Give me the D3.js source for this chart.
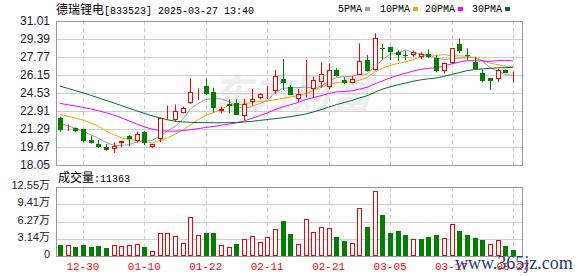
<!DOCTYPE html>
<html lang="zh">
<head>
<meta charset="utf-8">
<title>德瑞锂电 K线</title>
<script src="https://cdn.jsdelivr.net/npm/d3@7/dist/d3.min.js"></script>
<style>
  body { margin: 0; background: #fff; }
  svg { display: block; }
</style>
</head>
<body>
<div id="chart"></div>
<script type="text/javascript">
var dates = ["12-25","12-26","12-27","12-30","12-31","01-02","01-03","01-06","01-07","01-08",
             "01-09","01-10","01-13","01-14","01-15","01-16","01-17","01-20","01-21","01-22",
             "01-23","01-24","01-27","02-05","02-06","02-07","02-10","02-11","02-12","02-13",
             "02-14","02-17","02-18","02-19","02-20","02-21","02-24","02-25","02-26","02-27",
             "02-28","03-03","03-04","03-05","03-06","03-07","03-10","03-11","03-12","03-13",
             "03-14","03-17","03-18","03-19","03-20","03-21","03-24","03-25","03-26","03-27"];

var opens  = [22.31,21.25,21.35,21.29,20.30,19.94,19.70,19.46,20.03,20.63,
              20.24,21.02,19.64,20.36,22.45,22.10,22.76,23.60,24.62,25.16,
              24.65,22.88,23.51,23.60,22.49,23.70,24.05,24.68,24.74,25.79,
              25.10,24.02,24.92,24.86,25.55,25.10,26.60,25.70,25.46,26.15,
              27.50,26.60,28.55,28.64,28.19,27.98,27.92,27.74,28.01,27.65,
              26.54,27.20,28.94,27.95,27.29,26.36,25.85,25.82,26.60,26.35];
var highs  = [22.40,21.71,21.43,21.29,20.69,20.30,19.94,20.09,20.20,20.75,
              21.07,21.10,19.95,22.25,23.39,23.50,23.30,25.85,24.95,25.82,
              25.00,23.30,23.96,23.99,24.00,24.89,24.50,25.16,26.60,27.59,
              25.25,24.89,27.50,26.00,27.29,27.20,26.75,25.94,26.06,29.00,
              27.95,29.90,28.94,28.70,28.40,28.34,28.34,28.19,28.46,27.92,
              27.26,28.55,29.45,28.55,27.80,26.66,25.85,26.72,26.65,26.45];
var lows   = [21.05,21.11,21.00,20.09,19.98,19.58,19.34,19.13,19.64,19.70,
              20.09,19.85,19.60,20.10,22.13,21.95,22.70,23.54,23.90,24.35,
              22.76,22.70,22.70,22.55,22.10,23.39,23.95,23.99,24.44,24.80,
              24.35,23.75,24.14,24.20,25.00,24.86,26.00,25.34,25.40,26.15,
              26.45,26.54,27.56,27.50,27.44,27.50,27.80,27.59,27.68,26.39,
              26.30,27.14,28.10,27.50,26.60,25.49,24.80,25.52,26.30,25.46];
var closes = [21.20,21.30,21.11,20.24,20.00,19.67,19.43,19.76,20.18,20.36,
              20.81,20.00,19.91,22.25,22.52,22.91,23.15,24.62,24.70,24.41,
              23.15,23.12,23.36,22.55,23.54,24.00,24.44,24.73,26.06,25.46,
              24.35,24.44,24.97,25.67,26.24,26.60,26.09,25.40,25.76,27.38,
              26.54,29.45,28.50,28.25,27.95,27.92,28.19,28.01,27.74,26.54,
              27.20,28.55,28.31,27.90,26.69,25.64,25.64,26.60,26.36,26.37];

var ma5  = [21.80,21.60,21.35,21.10,20.77,20.46,20.09,19.82,19.81,19.88,
            20.11,20.22,20.25,20.67,21.10,21.52,22.15,23.09,23.58,23.96,
            24.01,24.00,23.75,23.32,23.14,23.31,23.58,23.85,24.55,24.94,
            25.01,25.01,25.06,24.98,25.13,25.58,25.91,26.00,26.02,26.25,
            26.23,26.91,27.53,28.02,28.14,28.41,28.16,28.06,27.96,27.68,
            27.54,27.61,27.67,27.70,27.73,27.42,26.84,26.49,26.19,26.12];
var ma10 = [22.61,22.45,22.28,22.10,21.85,21.55,21.12,20.78,20.52,20.33,
            20.29,20.16,20.04,20.24,20.49,20.81,21.19,21.67,22.12,22.53,
            22.76,23.07,23.42,23.45,23.55,23.66,23.79,23.80,23.94,24.04,
            24.16,24.29,24.45,24.77,25.04,25.30,25.46,25.53,25.50,25.69,
            25.91,26.41,26.76,27.02,27.19,27.32,27.53,27.80,27.99,27.91,
            27.98,27.89,27.87,27.83,27.71,27.48,27.22,27.08,26.94,26.93];
var ma20 = [23.60,23.48,23.36,23.24,23.10,22.94,22.75,22.55,22.30,22.02,
            21.75,21.48,21.28,21.15,21.10,21.10,21.14,21.22,21.32,21.43,
            21.52,21.62,21.73,21.84,22.02,22.24,22.49,22.74,23.03,23.28,
            23.46,23.68,23.94,24.11,24.29,24.48,24.63,24.66,24.72,24.87,
            25.04,25.35,25.61,25.89,26.11,26.31,26.50,26.66,26.75,26.80,
            26.94,27.15,27.31,27.43,27.45,27.40,27.38,27.44,27.47,27.42];
var ma30 = [25.16,24.95,24.75,24.55,24.33,24.10,23.87,23.64,23.40,23.16,
            22.93,22.70,22.48,22.30,22.12,22.00,21.93,21.89,21.87,21.86,
            21.85,21.85,21.86,21.88,21.92,21.98,22.06,22.14,22.22,22.30,
            22.40,22.51,22.64,22.82,23.03,23.26,23.48,23.67,23.85,24.09,
            24.28,24.59,24.88,25.08,25.26,25.43,25.59,25.71,25.81,25.88,
            26.02,26.20,26.36,26.54,26.64,26.70,26.74,26.80,26.81,26.84];

// volume in 万 shares, and bar colour (1 = red, 0 = green) as seen on the chart
var volumes = [2.05,2.00,1.70,2.05,1.70,1.88,1.50,2.00,1.88,2.00,
               2.18,1.70,0.85,4.12,4.12,3.64,2.30,7.03,3.76,4.18,
               4.18,2.00,1.64,2.18,3.09,3.64,2.48,3.45,4.90,6.36,
               4.00,2.18,6.73,4.36,5.27,5.09,3.52,2.73,2.36,8.73,
               5.33,11.82,7.45,4.18,4.55,3.82,3.09,3.09,3.45,3.82,
               3.27,5.76,4.55,3.82,3.27,2.91,2.18,2.85,1.82,1.14];
var volUp = [0,1,0,0,0,0,0,1,1,1,
             1,0,1,1,1,1,1,1,1,0,
             0,1,1,0,1,1,1,1,1,0,
             0,1,1,1,1,1,0,0,1,1,
             0,1,0,0,0,0,1,0,0,0,
             1,1,0,0,0,0,1,1,0,0];

var priceTicks = [18.05,19.67,21.29,22.91,24.53,26.15,27.77,29.39,31.01];
var volTicks = [0,3.14,6.27,9.41,12.55];
var tickDates = ["12-30","01-10","01-22","02-11","02-21","03-05","03-17","03-27"];

var maNames = ["5PMA","10PMA","20PMA","30PMA"];
var maColors = ["#a0a0a0","#f5a300","#ff00ff","#006e32"];
var lastVolume = "11363";

var W = 578, H = 276;
var left = 56, right = 522;
var RED = "#ff0000", GREEN = "#008000";

var svg = d3.select("#chart").append("svg")
    .attr("width", W)
    .attr("height", H)
    .style("font-family", "'Liberation Sans', Arial, sans-serif");

var x = d3.scaleBand()
    .domain(dates)
    .range([left, left + dates.length * 7.68]);
var bw = 5;
function cx(d) { return Math.round(x(d) + x.bandwidth() / 2) + 0.5; }

var y = d3.scaleLinear().domain([18.05, 31.01]).range([165, 21]);
var yv = d3.scaleLinear().domain([0, 12.55]).range([256, 187]);

// ---- header
var title = svg.append("text").attr("x", 56).attr("y", 14).attr("fill", "#000");
title.append("tspan").style("font-family", "'Noto Sans CJK SC'").style("font-size", "12px").text("德瑞锂电");
title.append("tspan").style("font-family", "'Liberation Mono', monospace").style("font-size", "10px")
    .text("[833523] 2025-03-27 13:40");

var legend = svg.append("g");
var legX = [338, 380, 425, 472];
maNames.forEach(function(n, i) {
    var t = legend.append("text")
        .attr("x", legX[i]).attr("y", 12)
        .style("font-family", "'Liberation Mono', monospace")
        .style("font-size", "10px")
        .attr("fill", "#000")
        .text(n);
    var w = t.node().getComputedTextLength();
    legend.append("rect")
        .attr("x", legX[i] + w + 3).attr("y", 7)
        .attr("width", 5).attr("height", 4)
        .attr("fill", maColors[i]);
});

// ---- watermark
svg.append("text")
    .attr("x", 292).attr("y", 108)
    .attr("text-anchor", "middle")
    .style("font-family", "'Noto Sans CJK SC'")
    .style("font-size", "40px")
    .style("font-weight", "bold")
    .style("font-style", "italic")
    .attr("fill", "#ededf1")
    .text("东方财富");

// ---- grids
function grid(g, scale, ticks, top, bottom) {
    g.selectAll("line.h").data(ticks).enter().append("line")
        .attr("x1", left).attr("x2", right)
        .attr("y1", function(d) { return Math.round(scale(d)) + 0.5; })
        .attr("y2", function(d) { return Math.round(scale(d)) + 0.5; })
        .attr("stroke", "#cfcfcf");
    g.selectAll("line.v").data(tickDates).enter().append("line")
        .attr("x1", cx).attr("x2", cx)
        .attr("y1", top).attr("y2", bottom)
        .attr("stroke", "#cfcfcf")
        .attr("stroke-dasharray", "4,3");
    g.append("rect")
        .attr("x", left + 0.5).attr("y", top + 0.5)
        .attr("width", right - left).attr("height", bottom - top)
        .attr("fill", "none").attr("stroke", "#999");
}
grid(svg.append("g"), y, priceTicks, 21, 165);
grid(svg.append("g"), yv, volTicks, 187, 256);

// ---- axis labels
var yAxis = svg.append("g")
    .attr("transform", "translate(" + (left - 3) + ",0)")
    .call(d3.axisLeft(y).tickValues(priceTicks).tickSize(0).tickFormat(d3.format(".2f")));
yAxis.select(".domain").remove();
yAxis.selectAll("text").style("font-size", "12px").attr("fill", "#1a1a33").style("font-family", "'Liberation Sans', Arial");

var vAxis = svg.append("g")
    .attr("transform", "translate(" + (left - 3) + ",-2)")
    .call(d3.axisLeft(yv).tickValues(volTicks).tickSize(0)
        .tickFormat(function(d) { return d === 0 ? "0" : d3.format(".2f")(d) + "万"; }));
vAxis.select(".domain").remove();
vAxis.selectAll("text").style("font-size", "11px").attr("fill", "#1a1a33").style("font-family", "'Liberation Sans', 'Noto Sans CJK SC'");

var xAxis = svg.append("g")
    .attr("transform", "translate(0,256)")
    .call(d3.axisBottom(x).tickValues(tickDates).tickSize(0).tickPadding(6));
xAxis.select(".domain").remove();
xAxis.selectAll("text").style("font-size", "11px").attr("fill", RED)
    .style("font-family", "'Liberation Mono', monospace");

// ---- moving averages
[ma5, ma10, ma20, ma30].forEach(function(ma, k) {
    var line = d3.line()
        .x(function(d, i) { return x(dates[i]) + x.bandwidth() / 2; })
        .y(function(d) { return y(d); });
    svg.append("path")
        .datum(ma)
        .attr("d", line)
        .attr("fill", "none")
        .attr("stroke", maColors[k])
        .attr("stroke-width", 1);
});

// ---- candles
var candles = svg.append("g").selectAll("g").data(dates).enter().append("g");
candles.each(function(d, i) {
    var g = d3.select(this);
    var up = closes[i] >= opens[i];
    var col = up ? RED : GREEN;
    var c = cx(d);
    var top = Math.round(y(Math.max(opens[i], closes[i])));
    var bot = Math.round(y(Math.min(opens[i], closes[i])));
    if (bot - top < 1) bot = top + 1;
    g.append("line")
        .attr("x1", c).attr("x2", c)
        .attr("y1", y(highs[i])).attr("y2", y(lows[i]))
        .attr("stroke", col);
    if (up) {
        g.append("rect")
            .attr("x", c - 2).attr("y", top + 0.5)
            .attr("width", bw - 1).attr("height", Math.max(bot - top - 1, 0))
            .attr("fill", "#fff").attr("stroke", col);
    } else {
        g.append("rect")
            .attr("x", c - 2.5).attr("y", top)
            .attr("width", bw).attr("height", bot - top)
            .attr("fill", col);
    }
});

// ---- volume
svg.append("text")
    .attr("x", 58).attr("y", 182)
    .attr("fill", "#000")
    .call(function(t) {
        t.append("tspan").style("font-family", "'Noto Sans CJK SC'").style("font-size", "12px").text("成交量");
        t.append("tspan").style("font-family", "'Liberation Mono', monospace").style("font-size", "10px").text(":" + lastVolume);
    });

svg.append("g").selectAll("rect").data(dates).enter().append("rect")
    .each(function(d, i) {
        var r = d3.select(this);
        var c = cx(d);
        var top = Math.round(yv(volumes[i]));
        if (volUp[i]) {
            r.attr("x", c - 2).attr("y", top + 0.5)
             .attr("width", bw - 1).attr("height", 256 - top - 1)
             .attr("fill", "#fff").attr("stroke", RED);
        } else {
            r.attr("x", c - 2.5).attr("y", top)
             .attr("width", bw).attr("height", 256 - top)
             .attr("fill", GREEN);
        }
    });

// ---- site watermark
svg.append("text")
    .attr("x", 455).attr("y", 269)
    .style("font-family", "'Liberation Serif', serif")
    .style("font-size", "18px")
    .attr("fill", "#1d3f7e")
    .text("www.365jz.com");
</script>
</body>
</html>
